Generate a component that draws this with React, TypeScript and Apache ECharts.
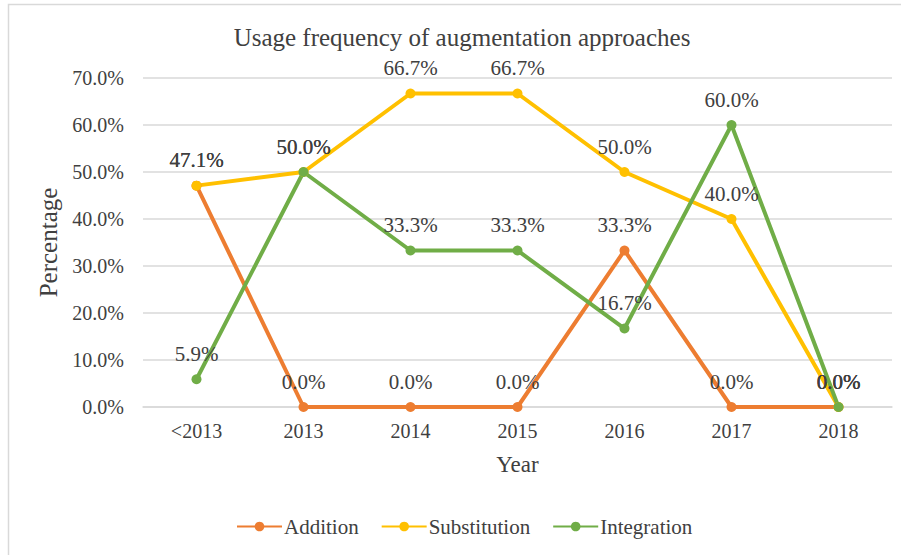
import React, { useEffect, useRef } from "react";
import * as echarts from "echarts";

const categories = ["<2013", "2013", "2014", "2015", "2016", "2017", "2018"];
const addition = [47.1, 0.0, 0.0, 0.0, 33.3, 0.0, 0.0];
const substitution = [47.1, 50.0, 66.7, 66.7, 50.0, 40.0, 0.0];
const integration = [5.9, 50.0, 33.3, 33.3, 16.7, 60.0, 0.0];
const seriesNames = ["Addition", "Substitution", "Integration"];
const colors = ["#ED7D31", "#FFC000", "#70AD47"];

const FONT = "Liberation Serif";
const TEXT = "#404040";

export default function App() {
  const ref = useRef<HTMLDivElement>(null);
  useEffect(() => {
    if (!ref.current) return;
    let chart: echarts.ECharts | null = null;
    let disposed = false;
    const build = () => {
      if (disposed || !ref.current) return;
      chart = echarts.init(ref.current, undefined, { renderer: "svg" });
      const mk = (name: string, data: number[], color: string) => ({
        name,
        type: "line",
        data,
        symbol: "circle",
        symbolSize: 10,
        lineStyle: { color, width: 4 },
        itemStyle: { color },
        label: {
          show: true,
          position: "top",
          distance: 10,
          formatter: (p: any) => p.value.toFixed(1) + "%",
          color: TEXT,
          fontFamily: FONT,
          fontWeight: "normal",
          fontSize: 21,
        },
      });
      chart.setOption({
        animation: false,
        textStyle: { fontFamily: FONT, fontWeight: "normal" },
        title: {
          text: "Usage frequency of augmentation approaches",
          left: 457,
          textAlign: "center",
          top: 20,
          textStyle: { fontFamily: FONT, fontSize: 25, fontWeight: "normal", color: TEXT },
        },
        graphic: [
          {
            type: "rect",
            shape: { x: 8.5, y: 4.5, width: 900, height: 560 },
            style: { fill: "none", stroke: "#d9d9d9", lineWidth: 1.5 },
            silent: true,
          },
        ],
        legend: {
          data: seriesNames,
          left: 231,
          top: 511,
          itemWidth: 45,
          itemHeight: 12,
          itemGap: 22,
          textStyle: {
            fontFamily: FONT,
            fontSize: 21,
            fontWeight: "normal",
            color: TEXT,
            padding: [0, 0, 0, -3],
          },
        },
        grid: { left: 143, right: 9, top: 78, bottom: 148 },
        xAxis: {
          type: "category",
          data: categories,
          boundaryGap: true,
          name: "Year",
          nameLocation: "middle",
          nameGap: 46,
          nameTextStyle: { fontFamily: FONT, fontSize: 23, fontWeight: "normal", color: TEXT },
          axisLine: { show: true, lineStyle: { color: "#d9d9d9", width: 1.5 } },
          axisTick: { show: false },
          axisLabel: { fontFamily: FONT, fontSize: 20, fontWeight: "normal", color: TEXT, margin: 14 },
        },
        yAxis: {
          type: "value",
          min: 0,
          max: 70,
          interval: 10,
          name: "Percentage",
          nameLocation: "middle",
          nameGap: 82,
          nameTextStyle: { fontFamily: FONT, fontSize: 25, fontWeight: "normal", color: TEXT },
          axisLine: { show: false },
          axisTick: { show: false },
          axisLabel: {
            fontFamily: FONT,
            fontSize: 20,
            fontWeight: "normal",
            color: TEXT,
            margin: 19,
            formatter: (v: number) => v.toFixed(1) + "%",
          },
          splitLine: { lineStyle: { color: "#d9d9d9", width: 1.5 } },
        },
        series: [
          mk(seriesNames[0], addition, colors[0]),
          mk(seriesNames[1], substitution, colors[1]),
          mk(seriesNames[2], integration, colors[2]),
        ],
      });
    };
    const fonts = (document as any).fonts;
    if (fonts && fonts.load) {
      Promise.all([
        fonts.load('20px "Liberation Serif"'),
        fonts.load('25px "Liberation Serif"'),
      ]).then(build, build);
    } else {
      build();
    }
    return () => {
      disposed = true;
      if (chart) chart.dispose();
    };
  }, []);
  return (
    <>
      <style>{`.chart-root svg text { font-family: "Liberation Serif", serif !important; }`}</style>
      <div
        ref={ref}
        className="chart-root"
        style={{
          position: "absolute",
          left: 0,
          top: 0,
          width: 901,
          height: 555,
          background: "#fff",
          fontFamily: "'Liberation Serif', serif",
        }}
      />
    </>
  );
}
